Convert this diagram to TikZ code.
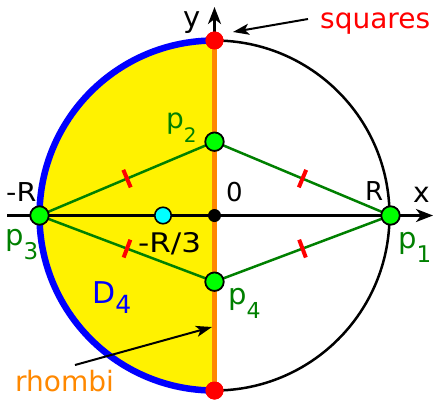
\documentclass[tikz,border=0pt]{standalone}
\usepackage{fontspec}
\setmainfont{DejaVu Sans}
\usetikzlibrary{arrows.meta,calc}
\definecolor{lgreen}{RGB}{0,128,0}
\definecolor{lime}{RGB}{0,255,0}
\definecolor{orng}{RGB}{255,136,0}
\definecolor{cyn}{RGB}{0,255,255}
\newcommand\fsz[1]{\fontsize{#1}{#1}\selectfont}
\tikzset{
  pt/.style={circle,draw=black,line width=1.8pt,fill=lime,minimum size=18.5pt,inner sep=0pt},
  reddot/.style={circle,fill=red,minimum size=18pt,inner sep=0pt},
  lbl/.style={anchor=base west,inner sep=0pt},
  gline/.style={lgreen,line width=2.5pt},
  tickm/.style={red,line width=4pt},
  axis/.style={black,line width=2.7pt,-{Stealth[length=17pt,width=13pt,inset=5pt]}},
  pointer/.style={black,line width=2pt,-{Stealth[length=16pt,width=11pt,inset=4pt]}},
}
\begin{document}
\begin{tikzpicture}[x=1pt,y=-1pt]
\useasboundingbox (0,0) rectangle (436,400);
% half disk
\fill[yellow] (214.5,40.5) arc[start angle=270,end angle=90,radius=175];
\draw[black,line width=2.5pt] (214.5,40.5) arc[start angle=270,end angle=450,radius=175];
\draw[blue,line width=6.5pt] (214.5,40.5) arc[start angle=270,end angle=90,radius=175];
% axes
\coordinate (xs) at (7,215.5);
\coordinate (xe) at (433,215.5);
\coordinate (ys) at (214.5,40);
\coordinate (ye) at (214.5,7);
\draw[axis] (xs) -- (xe);
\draw[axis] (ys) -- (ye);
% nodes
\node[reddot] (top) at (214.5,40.5) {};
\node[reddot] (bot) at (214.5,390.5) {};
\draw[orng,line width=5pt] (top.center) -- (bot.center);
\node[reddot] at (214.5,40.5) {};
\node[reddot] at (214.5,390.5) {};
\coordinate (P1) at (390.5,215.5);
\coordinate (P2) at (214.5,141.7);
\coordinate (P3) at (39.5,215.5);
\coordinate (P4) at (214.5,281.7);
\draw[gline] (P3) -- (P2) -- (P1) -- (P4) -- cycle;
\foreach \a/\b [count=\i] in {P3/P2,P2/P1,P1/P4,P4/P3}{
  \coordinate (m\i) at ($(\a)!0.5!(\b)$);
  \draw[tickm] ($(m\i)!9.5pt!90:(\b)$) -- ($(m\i)!9.5pt!-90:(\b)$);
}
\node[circle,fill=black,minimum size=13pt,inner sep=0pt] (O) at (214.5,215.5) {};
\node[circle,draw=black,line width=1.6pt,fill=cyn,minimum size=16.5pt,inner sep=0pt] (c) at (163,215.5) {};
\node[pt] (p1) at (P1) {};
\node[pt] (p2) at (P2) {};
\node[pt] (p3) at (P3) {};
\node[pt] (p4) at (P4) {};
% labels
\node[lbl] (ly) at (183,27) {\fsz{29}y};
\node[lbl] (lx) at (413,202) {\fsz{28}x};
\node[lbl,red] (lsq) at (320,28) {\fsz{28}squares};
\node[lbl] (lmr) at (6,201.5) {\fsz{26}\scalebox{1.1}[1]{-R}};
\node[lbl] (lr) at (365,200) {\fsz{26}R};
\node[lbl] (l0) at (226,201) {\fsz{26}0};
\node[lbl] (lr3) at (138,252) {\fsz{27}\scalebox{1.15}[1]{-R/3}};
\node[lbl,lgreen] (lp2) at (166,128) {\fsz{28}p\raisebox{-14pt}{\fsz{20}2}};
\node[lbl,lgreen] (lp3) at (5,245) {\fsz{29}p\raisebox{-14pt}{\fsz{23}3}};
\node[lbl,lgreen] (lp1) at (398,248) {\fsz{29}p\raisebox{-14pt}{\fsz{23}1}};
\node[lbl,lgreen] (lp4) at (228,304) {\fsz{29}p\raisebox{-14pt}{\fsz{22}4}};
\node[lbl,blue] (ld4) at (92,303) {\fsz{30}D\raisebox{-10pt}{\fsz{25}4}};
\node[lbl,orng] (lrh) at (15,391) {\fsz{28}rhombi};
% pointers
\coordinate (sqt) at (308,19);
\coordinate (sqh) at (233,32);
\draw[pointer] (sqt) -- (sqh);
\coordinate (rht) at (75,365);
\coordinate (rhh) at (212,327);
\draw[pointer] (rht) -- (rhh);
\end{tikzpicture}
\end{document}
